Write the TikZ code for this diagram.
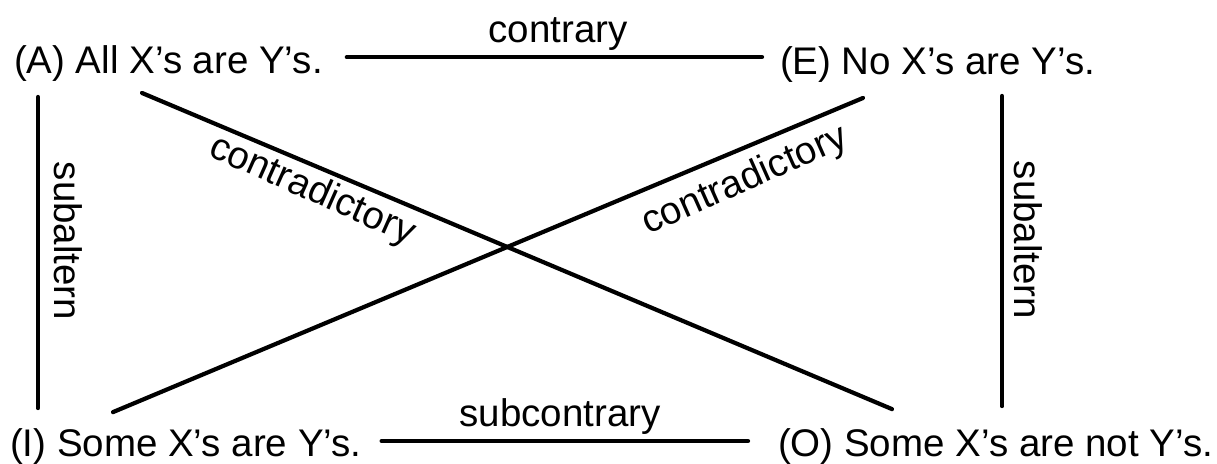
\documentclass[tikz,border=0pt]{standalone}
\usepackage{fontspec}
\setmainfont{Liberation Sans}
\begin{document}
\begin{tikzpicture}[x=1pt,y=-1pt,
  every node/.style={inner sep=0pt, outer sep=0pt, font=\fontsize{38.5}{46}\selectfont},
  prop/.style={anchor=base west},
  rel/.style={line width=4.2pt, line cap=round}]
\useasboundingbox (0,0) rectangle (1217,463);
% propositions
\node[prop] (A) at (14,73) {(A) All X’s are Y’s.};
\node[prop] (E) at (780,74) {(E) No X’s are Y’s.};
\node[prop] (I) at (10,456) {(I) Some X’s are Y’s.};
\node[prop] (O) at (778,456) {(O) Some X’s are not Y’s.};
% relations
\draw[rel] ([shift={(24,-6)}]A.east) -- ([shift={(-18,-7)}]E.west);
\draw[rel] ([shift={(20,-5)}]I.east) -- ([shift={(-30,-5)}]O.west);
\draw[rel] ([shift={(24,16)}]A.south west) -- ([shift={(28,-20)}]I.north west);
\draw[rel] ([shift={(222,14)}]E.south west) -- ([shift={(224,-22)}]O.north west);
\draw[rel] ([shift={(128,12)}]A.south west) -- ([shift={(114,-19)}]O.north west);
\draw[rel] ([shift={(83,16)}]E.south west) -- ([shift={(103,-16)}]I.north west);
% labels
\node[anchor=base] (lc) at (558,42) {contrary};
\node[anchor=base] (lsc) at (560,426) {subcontrary};
\node[rotate=-90] (ls1) at (68,241) {subaltern};
\node[rotate=-90] (ls2) at (1028,240) {subaltern};
\node[rotate=-24] (ld1) at (312,191) {contradictory};
\node[rotate=24] (ld2) at (745,181) {contradictory};
\end{tikzpicture}
\end{document}
